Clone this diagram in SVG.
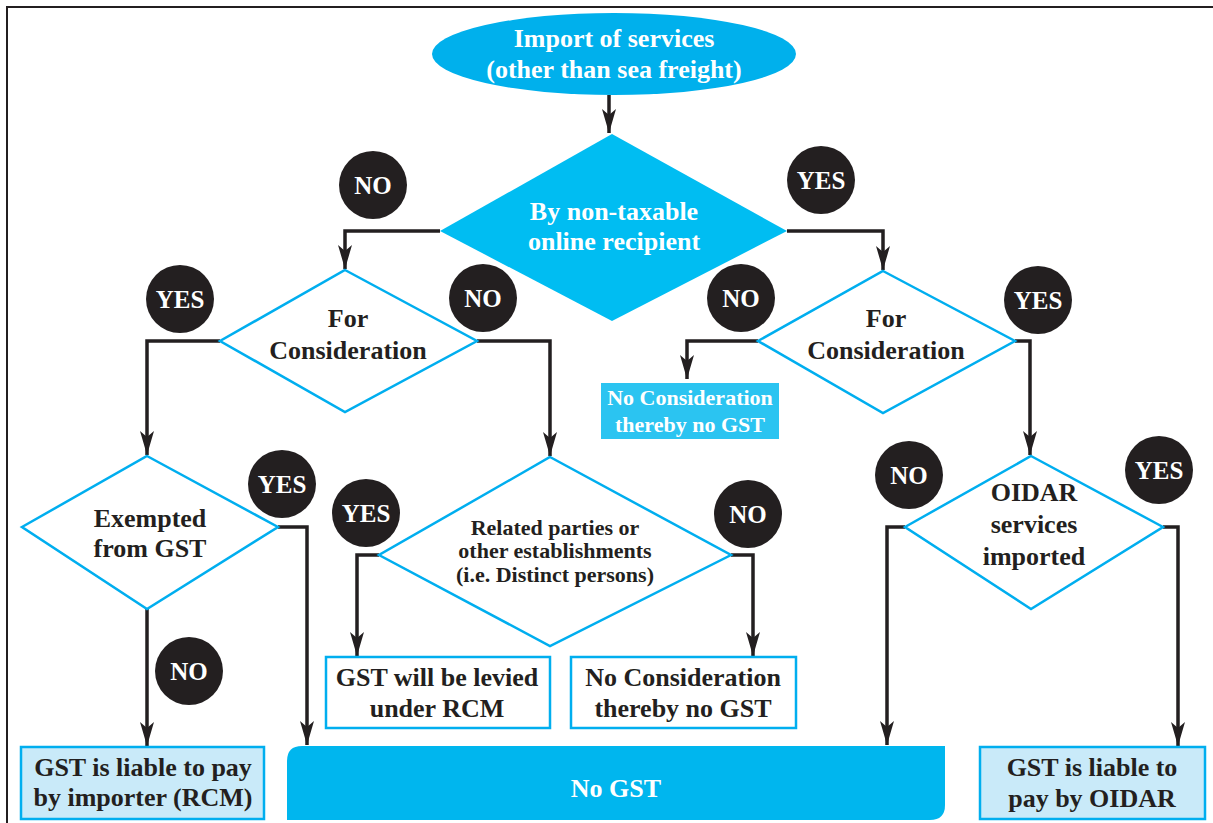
<svg xmlns="http://www.w3.org/2000/svg" width="1213" height="823" viewBox="0 0 1213 823">
<defs>
<marker id="arr" markerUnits="userSpaceOnUse" viewBox="0 0 24 16" refX="24" refY="8" markerWidth="24" markerHeight="16" orient="auto">
<path d="M0,1 L24,8 L0,15 L6,8 Z" fill="#231f20"/>
</marker>
<style>
.conn{fill:none;stroke:#231f20;stroke-width:3.5;marker-end:url(#arr)}
.dia{fill:#fff;stroke:#00aeef;stroke-width:2.5}
.box{stroke:#00aeef;stroke-width:2.5}
.t{font-family:"Liberation Serif","Times New Roman",serif;font-weight:bold;text-anchor:middle}
.dk{fill:#231f20}
.wh{fill:#fff}
.badge{fill:#231f20}
.bt{font-family:"Liberation Serif","Times New Roman",serif;font-weight:bold;text-anchor:middle;fill:#fff;font-size:25px}
</style>
</defs>
<rect width="1213" height="823" fill="#fff"/>
<path d="M7,823 V7 H1213" fill="none" stroke="#231f20" stroke-width="2"/>

<g id="connectors">
<path class="conn" d="M609,95 V133"/>
<path class="conn" d="M440,231 H345 V269"/>
<path class="conn" d="M787,231 H883 V270"/>
<path class="conn" d="M220,341 H147 V455"/>
<path class="conn" d="M477,341 H550 V456"/>
<path class="conn" d="M758,341 H687 V379"/>
<path class="conn" d="M1015,341 H1030 V455"/>
<path class="conn" d="M147,609 V746"/>
<path class="conn" d="M278,527 H307 V745"/>
<path class="conn" d="M379,555 H357 V656"/>
<path class="conn" d="M731,555 H753 V656"/>
<path class="conn" d="M905,527 H887 V745"/>
<path class="conn" d="M1163,527 H1178 V746"/>
</g>

<g id="start">
<ellipse cx="614" cy="54" rx="182" ry="41" fill="#00b0ec"/>
<text class="t wh" x="614" y="47" font-size="26">Import of services</text>
<text class="t wh" x="614" y="78" font-size="26">(other than sea freight)</text>
</g>

<g id="d-online">
<polygon points="612,134 787,231 612,321 440,231" fill="#00bdf2"/>
<text class="t wh" x="614" y="220" font-size="26">By non-taxable</text>
<text class="t wh" x="614" y="250" font-size="26">online recipient</text>
</g>

<g id="d-consid-left">
<polygon class="dia" points="345,270 477,341 345,412 220,341"/>
<text class="t dk" x="348" y="327" font-size="26">For</text>
<text class="t dk" x="348" y="359" font-size="26">Consideration</text>
</g>

<g id="d-consid-right">
<polygon class="dia" points="883,271 1015,341 883,413 758,341"/>
<text class="t dk" x="886" y="327" font-size="26">For</text>
<text class="t dk" x="886" y="359" font-size="26">Consideration</text>
</g>

<g id="b-noconsid-top">
<rect x="601" y="383" width="178" height="56" fill="#2bc4f1"/>
<text class="t wh" x="690" y="405" font-size="22">No Consideration</text>
<text class="t wh" x="690" y="432" font-size="22">thereby no GST</text>
</g>

<g id="d-exempted">
<polygon class="dia" points="147,456 278,527 147,609 22,527"/>
<text class="t dk" x="150" y="527" font-size="26">Exempted</text>
<text class="t dk" x="150" y="557" font-size="26">from GST</text>
</g>

<g id="d-related">
<polygon class="dia" points="550,457 731,555 550,646 379,555" fill="#d4edfa"/>
<text class="t dk" x="555" y="535" font-size="22">Related parties or</text>
<text class="t dk" x="555" y="558" font-size="22">other establishments</text>
<text class="t dk" x="555" y="582" font-size="22">(i.e. Distinct persons)</text>
</g>

<g id="d-oidar">
<polygon class="dia" points="1031,456 1163,527 1031,609 905,527"/>
<text class="t dk" x="1034" y="501" font-size="26">OIDAR</text>
<text class="t dk" x="1034" y="533" font-size="26">services</text>
<text class="t dk" x="1034" y="565" font-size="26">imported</text>
</g>

<g id="b-rcm">
<rect class="box" x="326" y="657" width="224" height="71" fill="#fff"/>
<text class="t dk" x="437" y="686" font-size="26">GST will be levied</text>
<text class="t dk" x="437" y="717" font-size="26">under RCM</text>
</g>

<g id="b-noconsid">
<rect class="box" x="571" y="657" width="225" height="71" fill="#fff"/>
<text class="t dk" x="683" y="686" font-size="26">No Consideration</text>
<text class="t dk" x="683" y="717" font-size="26">thereby no GST</text>
</g>

<g id="b-importer">
<rect class="box" x="21" y="747" width="243" height="72" fill="#c9eaf9"/>
<text class="t dk" x="143" y="776" font-size="26">GST is liable to pay</text>
<text class="t dk" x="143" y="806" font-size="26">by importer (RCM)</text>
</g>

<g id="b-nogst">
<path d="M302,746 H945 V805 Q945,820 930,820 H287 V761 Q287,746 302,746 Z" fill="#00b6ee"/>
<text class="t wh" x="616" y="797" font-size="26">No GST</text>
</g>

<g id="b-oidar">
<rect class="box" x="980" y="747" width="225" height="72" fill="#c9eaf9"/>
<text class="t dk" x="1092" y="776" font-size="26">GST is liable to</text>
<text class="t dk" x="1092" y="807" font-size="26">pay by OIDAR</text>
</g>

<g id="badges">
<circle class="badge" cx="373" cy="185" r="34"/><text class="bt" x="373" y="194">NO</text>
<circle class="badge" cx="821" cy="180" r="34"/><text class="bt" x="821" y="189">YES</text>
<circle class="badge" cx="180" cy="299" r="34"/><text class="bt" x="180" y="308">YES</text>
<circle class="badge" cx="483" cy="298" r="34"/><text class="bt" x="483" y="307">NO</text>
<circle class="badge" cx="741" cy="298" r="34"/><text class="bt" x="741" y="307">NO</text>
<circle class="badge" cx="1038" cy="300" r="34"/><text class="bt" x="1038" y="309">YES</text>
<circle class="badge" cx="282" cy="484" r="34"/><text class="bt" x="282" y="493">YES</text>
<circle class="badge" cx="366" cy="513" r="34"/><text class="bt" x="366" y="522">YES</text>
<circle class="badge" cx="748" cy="514" r="34"/><text class="bt" x="748" y="523">NO</text>
<circle class="badge" cx="909" cy="475" r="34"/><text class="bt" x="909" y="484">NO</text>
<circle class="badge" cx="1159" cy="470" r="34"/><text class="bt" x="1159" y="479">YES</text>
<circle class="badge" cx="189" cy="671" r="34"/><text class="bt" x="189" y="680">NO</text>
</g>
</svg>
